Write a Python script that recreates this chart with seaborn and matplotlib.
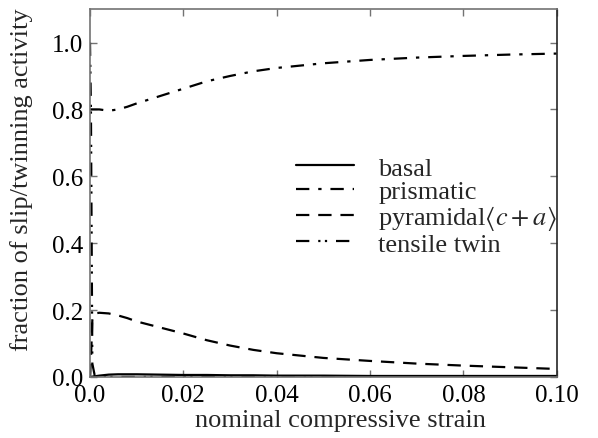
import numpy as np
import pandas as pd
import matplotlib
matplotlib.use("Agg")
import matplotlib.pyplot as plt
import seaborn as sns

# Strain grid and fractions of each deformation mode
strain = [0.0, 0.0002, 0.0005, 0.001, 0.002, 0.004, 0.006, 0.008, 0.01, 0.015,
          0.02, 0.025, 0.03, 0.035, 0.04, 0.05, 0.06, 0.07, 0.08, 0.09, 0.10]
basal = [0.0, 0.0, 0.001, 0.002, 0.004, 0.007, 0.008, 0.008, 0.008, 0.007,
         0.006, 0.006, 0.005, 0.005, 0.004, 0.004, 0.003, 0.003, 0.003, 0.003, 0.003]
prismatic = [0.80, 0.80, 0.80, 0.800, 0.800, 0.796, 0.800, 0.808, 0.818, 0.840,
             0.862, 0.884, 0.900, 0.914, 0.924, 0.938, 0.948, 0.955, 0.960, 0.964, 0.967]
pyramidal = [0.0, 0.05, 0.17, 0.190, 0.192, 0.190, 0.184, 0.176, 0.166, 0.148,
             0.130, 0.110, 0.094, 0.081, 0.071, 0.057, 0.048, 0.040, 0.034, 0.029, 0.024]
tensile_twin = [1.0, 0.80, 0.04, 0.005, 0.001, 0.0, 0.0, 0.0, 0.0, 0.0,
                0.0, 0.0, 0.0, 0.0, 0.0, 0.0, 0.0, 0.0, 0.0, 0.0, 0.0]

labels = ["basal", "prismatic", r"pyramidal$\langle c + a\rangle$", "tensile twin"]
x_ticks = [0.0, 0.02, 0.04, 0.06, 0.08, 0.10]
x_ticklabels = ["0.0", "0.02", "0.04", "0.06", "0.08", "0.10"]
y_ticks = [0.0, 0.2, 0.4, 0.6, 0.8, 1.0]

sns.set_style("ticks")
plt.rcParams["font.family"] = ["Liberation Serif", "DejaVu Serif"]
plt.rcParams["mathtext.fontset"] = "stix"

fig = plt.figure(figsize=(5.98, 4.39), dpi=100)
ax = fig.add_axes([0.1505, 0.139, 0.7805, 0.838])

series = [basal, prismatic, pyramidal, tensile_twin]
styles = ["-", (0, (6, 4, 1.5, 4)), (0, (6, 4)), (0, (6, 4, 1, 2, 1, 4))]
for vals, lab, ls in zip(series, labels, styles):
    df = pd.DataFrame({"strain": strain, "frac": vals})
    sns.lineplot(data=df, x="strain", y="frac", ax=ax, color="black",
                 linestyle=ls, linewidth=1.6, label=lab)

ax.set_xlim(0, 0.10)
ax.set_ylim(0, 1.1)
ax.set_xticks(x_ticks)
ax.set_xticklabels(x_ticklabels)
ax.set_yticks(y_ticks)
ax.tick_params(direction="in", top=True, right=True, labelsize=18,
               length=5, width=1.0, pad=5, color="0.45", labelcolor="black")
for name, s in ax.spines.items():
    s.set_color("0.45" if name != "right" else "0.15")
    s.set_linewidth(1.2)

ax.set_xlabel("nominal compressive strain", fontsize=19)
ax.set_ylabel("fraction of slip/twinning activity", fontsize=19)
ax.xaxis.set_label_coords(0.537, -0.088)
ax.yaxis.set_label_coords(-0.122, 0.538)

leg = ax.legend(loc="upper left", bbox_to_anchor=(0.414, 0.636), frameon=False,
                fontsize=19, handlelength=2.2, handletextpad=0.9,
                labelspacing=0.0, borderpad=0)

fig.savefig("out.png", dpi=100)
